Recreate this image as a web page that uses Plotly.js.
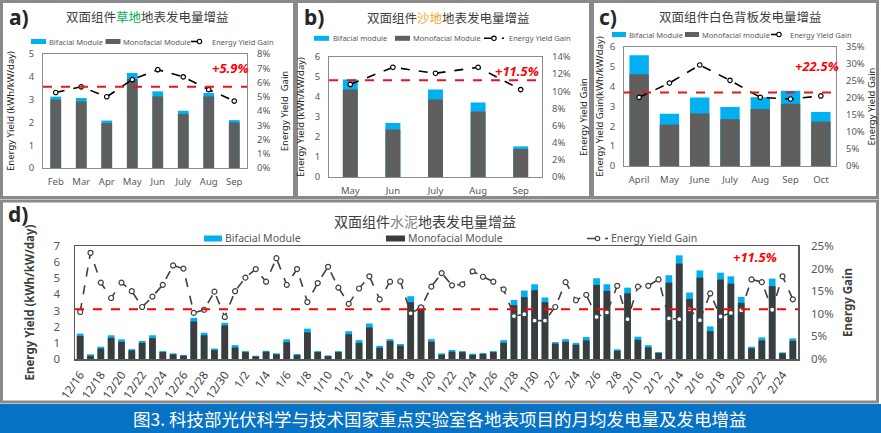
<!DOCTYPE html>
<html><head><meta charset="utf-8">
<script src="https://cdn.plot.ly/plotly-3.0.1.min.js"></script>
<style>html,body{margin:0;padding:0;background:#fff;overflow:hidden}#c{width:881px;height:433px}</style>
</head><body><div id="c"></div>
<script>
// ---------- data ----------
const monthsA = ['Feb','Mar','Apr','May','Jun','July','Aug','Sep'];
const bifacialA = [3.13,3.07,2.08,4.17,3.36,2.51,3.29,2.10];
const monofacialA = [3.00,2.92,1.97,3.90,3.14,2.37,3.14,2.00];
const gainA = [5.3,5.7,5.0,6.2,6.9,6.4,5.5,4.7];
const avgLineA = 5.7, avgLabelA = '+5.9%';
const legendNamesA = ['Bifacial Module','Monofacial Module','Energy Yield Gain'];

const monthsB = ['May','Jun','July','Aug','Sep'];
const bifacialB = [4.87,2.70,4.37,3.72,1.53];
const monofacialB = [4.37,2.38,3.88,3.28,1.40];
const gainB = [10.8,12.8,12.1,12.8,10.2];
const avgLineB = 11.3, avgLabelB = '+11.5%';
const legendNamesB = ['Bifacial module','Monofacial Module','Energy Yield Gain'];

const monthsC = ['April','May','June','July','Aug','Sep','Oct'];
const bifacialC = [5.58,2.63,3.46,2.97,3.47,3.79,2.72];
const monofacialC = [4.62,2.09,2.65,2.36,2.88,3.14,2.24];
const gainC = [20.2,24.4,29.7,25.2,20.2,19.7,20.6];
const avgLineC = 21.6, avgLabelC = '+22.5%';
const legendNamesC = ['Bifacial Module','Monofacial module','Energy Yield Gain'];

const datesD = ['12/16','12/17','12/18','12/19','12/20','12/21','12/22','12/23','12/24','12/25','12/26','12/27','12/28','12/29','12/30',
 '1/1','1/2','1/3','1/4','1/5','1/6','1/7','1/8','1/9','1/10','1/11','1/12','1/13','1/14','1/15','1/16','1/17','1/18','1/19','1/20',
 '1/21','1/22','1/23','1/24','1/25','1/26','1/27','1/28','1/29','1/30','1/31',
 '2/2','2/3','2/4','2/5','2/6','2/7','2/8','2/9','2/10','2/11','2/12','2/13','2/14','2/15','2/16','2/17','2/18','2/19','2/20',
 '2/21','2/22','2/23','2/24','2/25'];
const bifacialD = [1.57,0.29,0.76,1.47,1.22,0.61,1.12,1.47,0.49,0.35,
 0.25,2.55,1.63,0.65,2.24,0.86,0.49,0.20,0.51,0.35,
 1.22,0.31,1.88,0.49,0.22,0.49,1.72,1.17,2.20,0.82,
 1.23,0.93,3.89,3.33,1.23,0.35,0.56,0.49,0.33,0.37,
 0.49,1.17,3.66,4.24,4.63,3.81,1.05,1.23,0.99,1.36,
 5.00,4.63,0.60,4.42,1.38,0.86,0.43,5.19,6.42,4.12,
 5.49,2.02,5.35,5.12,3.85,0.76,1.34,4.98,0.41,1.28];
const monofacialD = [1.43,0.20,0.65,1.31,1.06,0.53,1.00,1.29,0.43,0.29,
 0.20,2.33,1.47,0.55,2.08,0.71,0.43,0.16,0.45,0.29,
 1.04,0.24,1.65,0.43,0.18,0.43,1.53,1.00,1.95,0.70,
 1.11,0.82,3.52,3.17,1.07,0.27,0.45,0.43,0.25,0.31,
 0.43,1.00,3.33,3.83,4.26,3.52,0.95,1.07,0.88,1.15,
 4.59,4.22,0.51,4.07,1.19,0.72,0.37,4.73,5.91,3.72,
 5.04,1.73,4.92,4.67,3.48,0.66,1.15,4.51,0.35,1.13];
const gainD = [10.4,23.5,16.9,13.5,16.9,15.0,11.5,13.8,16.4,20.7,
 20.0,10.2,10.9,14.9,9.3,15.0,18.0,19.9,17.1,22.3,
 16.4,19.9,12.6,16.8,20.4,15.8,12.2,15.6,18.3,13.2,
 17.1,17.2,10.1,11.4,16.0,19.0,16.3,16.5,19.4,18.2,
 17.1,15.4,9.5,9.9,8.5,8.5,11.5,17.0,13.0,14.2,
 9.3,10.3,16.2,8.8,16.0,16.2,17.6,9.0,8.8,11.0,
 8.6,14.5,9.4,10.2,10.8,17.6,17.0,10.9,18.3,13.2];
const avgLineD = 11.0, avgLabelD = '+11.5%';
const legendNamesD = ['Bifacial Module','Monofacial Module','Energy Yield Gain'];
const tickDatesD = datesD.filter((d,i)=>i%2===0);

// ---------- helpers ----------
const W=881,H=433;
const px=x=>x/W, py=y=>1-y/H;
const CYAN='#00B0F0', GREY='#5f5f5f', DARK='#3c3c3c';
const LAT='"Noto Sans", "Open Sans", sans-serif';
const CJK='"Noto Sans CJK SC", sans-serif';

function panelTraces(cats,bi,mono,gain,xa,ya,ya2,names,w,mono_col,line_col,msize){
  return [
    {type:'bar',x:cats,y:bi,name:names[0],marker:{color:CYAN},width:w,xaxis:xa,yaxis:ya,showlegend:false,hoverinfo:'skip'},
    {type:'bar',x:cats,y:mono,name:names[1],marker:{color:mono_col},width:w,xaxis:xa,yaxis:ya,showlegend:false,hoverinfo:'skip'},
    {type:'scatter',mode:'lines+markers',x:cats,y:gain,name:names[2],xaxis:xa,yaxis:ya2,showlegend:false,
     line:{color:line_col,width:1.6,dash:'dash'},marker:{symbol:'circle',size:msize,color:'#fff',line:{color:line_col,width:1.2}},hoverinfo:'skip'}
  ];
}
const data = [
  ...panelTraces(monthsA,bifacialA,monofacialA,gainA,'x','y','y2',legendNamesA,0.42,GREY,'#000',4.5),
  ...panelTraces(monthsB,bifacialB,monofacialB,gainB,'x2','y3','y4',legendNamesB,0.35,GREY,'#000',4.5),
  ...panelTraces(monthsC,bifacialC,monofacialC,gainC,'x3','y5','y6',legendNamesC,0.64,GREY,'#000',4.5),
  ...panelTraces(datesD,bifacialD,monofacialD,gainD,'x4','y7','y8',legendNamesD,0.65,DARK,'#404040',5)
];

const tf={family:LAT,size:9.5,color:'#595959'};
function xax(dom,anchor,n,extra){return Object.assign({domain:dom,anchor:anchor,type:'category',range:[-0.5,n-0.5],autorange:false,showgrid:false,zeroline:false,showline:true,mirror:true,linecolor:'#8c8c8c',linewidth:1,ticks:'',tickangle:0,tickfont:tf,ticklabelstandoff:5,automargin:false},extra||{});}
function yl(dom,anchor,range,dtick,title,so,extra){return Object.assign({domain:dom,anchor:anchor,range:range,dtick:dtick,showgrid:false,zeroline:false,showline:true,mirror:true,linecolor:'#8c8c8c',linewidth:1,ticks:'',tickfont:tf,ticklabelstandoff:6,automargin:false,
  title:{text:title,font:{family:LAT,size:9.5,color:'#262626'},standoff:so}},extra||{});}
function yr(over,anchor,range,dtick,title,so,extra){return Object.assign({overlaying:over,anchor:anchor,side:'right',range:range,dtick:dtick,ticksuffix:'%',showgrid:false,zeroline:false,showline:false,ticks:'',tickfont:tf,ticklabelstandoff:9,automargin:false,
  title:{text:title,font:{family:LAT,size:9.5,color:'#262626'},standoff:so}},extra||{});}

const dA=[px(43),px(247)], vA=[py(168),py(54)];
const dB=[px(329),px(542)], vB=[py(177),py(57)];
const dC=[px(624),px(836)], vC=[py(166),py(47)];
const dD=[px(75),px(798)], vD=[py(359),py(246)];

// manual legend keys (legend boxes laid out like the original)
const legShapes=[], legAnns=[];
function legendRow(names,y,fs,bar1,bar2,line3,txt,monoCol,lineCol,bh){
  const keys=[[bar1,CYAN],[bar2,monoCol]];
  keys.forEach(([k,col])=>legShapes.push({type:'rect',xref:'paper',yref:'paper',x0:px(k[0]),x1:px(k[1]),y0:py(y+bh/2),y1:py(y-bh/2),fillcolor:col,line:{width:0}}));
  legShapes.push({type:'line',xref:'paper',yref:'paper',x0:px(line3[0]),x1:px(line3[1]),y0:py(y),y1:py(y),line:{color:lineCol,width:1.6,dash:'dash'}});
  const cx=(line3[0]+line3[1])/2, r=2.2;
  legShapes.push({type:'circle',xref:'paper',yref:'paper',x0:px(cx-r),x1:px(cx+r),y0:py(y+r),y1:py(y-r),fillcolor:'#fff',line:{color:lineCol,width:1.1}});
  names.forEach((n,i)=>legAnns.push({xref:'paper',yref:'paper',x:px(txt[i]),y:py(y),xanchor:'left',yanchor:'middle',showarrow:false,text:n,font:{family:LAT,size:fs,color:'#595959'}}));
}
legendRow(legendNamesA,41.5,7.5,[31,46],[105.5,120.5],[191,208],[46.5,121,209.5],GREY,'#000',5);
legendRow(legendNamesB,38.3,7.5,[314,329],[395,410],[484,504],[330.5,410.5,506.5],GREY,'#000',5);
legendRow(legendNamesC,34.5,7.5,[612,626],[685,699],[771,787],[627,699.5,787.5],GREY,'#000',5);
legendRow(legendNamesD,238.5,10.5,[204,222],[386,405],[587,608],[223,406,609],DARK,'#404040',6);

const ann=(x,y,text,font,extra)=>Object.assign({xref:'paper',yref:'paper',x:px(x),y:py(y),xanchor:'center',yanchor:'middle',showarrow:false,text:text,font:font},extra||{});

const layout={
  width:W,height:H,margin:{l:0,r:0,t:0,b:0,autoexpand:false},paper_bgcolor:'#fff',plot_bgcolor:'#fff',
  barmode:'overlay',showlegend:false,
  xaxis:xax(dA,'y',monthsA.length), yaxis:yl(vA,'x',[0,5],1,'Energy Yield (kWh/kW/day)',12), yaxis2:yr('y','x',[0,8],1,'Energy Yield  Gain',11),
  xaxis2:xax(dB,'y3',monthsB.length), yaxis3:yl(vB,'x2',[0,6],1,'Energy Yield (kWh/kW/day)',8), yaxis4:yr('y3','x2',[0,14],2,'Energy Yield Gain',10),
  xaxis3:xax(dC,'y5',monthsC.length), yaxis5:yl(vC,'x3',[0,6],1,'Energy Yield Gain(kWh/kW/day)',4), yaxis6:yr('y5','x3',[0,35],5,'Energy Yield Gain',4),
  xaxis4:xax(dD,'y7',datesD.length,{tickangle:-55,tickvals:tickDatesD,ticktext:tickDatesD,tickfont:{family:LAT,size:11.5,color:'#404040'},ticklabelstandoff:3,linecolor:'#595959',linewidth:1.5}),
  yaxis7:yl(vD,'x4',[0,7],1,'',10,{tickfont:{family:LAT,size:11.5,color:'#595959'},ticklabelstandoff:11,linecolor:'#595959',linewidth:1.5,title:{text:'<b>Energy Yield (kWh/kW/day)</b>',font:{family:LAT,size:11.5,color:'#404040'},standoff:16}}),
  yaxis8:yr('y7','x4',[0,25],5,'',10,{tickfont:{family:LAT,size:11.5,color:'#595959'},ticklabelstandoff:12,title:{text:'<b>Energy Gain</b>',font:{family:LAT,size:11.5,color:'#404040'},standoff:11}}),
  shapes:[
    {type:'rect',xref:'paper',yref:'paper',x0:px(1.5),x1:px(294.5),y0:py(197.5),y1:py(1.5),line:{color:'#8a8a8a',width:3}},
    {type:'rect',xref:'paper',yref:'paper',x0:px(296.5),x1:px(590.5),y0:py(197.5),y1:py(1.5),line:{color:'#8a8a8a',width:3}},
    {type:'rect',xref:'paper',yref:'paper',x0:px(592.5),x1:px(877.5),y0:py(197.5),y1:py(1.5),line:{color:'#8a8a8a',width:3}},
    {type:'rect',xref:'paper',yref:'paper',x0:px(1.5),x1:px(877.5),y0:py(402),y1:py(201),line:{color:'#8a8a8a',width:3}},
    {type:'rect',xref:'paper',yref:'paper',x0:0,x1:1,y0:0,y1:py(404),fillcolor:'#0872C4',line:{width:0}},
    {type:'line',xref:'x domain',yref:'y2',x0:0,x1:1,y0:avgLineA,y1:avgLineA,line:{color:'#E8141B',width:2,dash:'dash'}},
    {type:'line',xref:'x2 domain',yref:'y4',x0:0,x1:1,y0:avgLineB,y1:avgLineB,line:{color:'#E8141B',width:2,dash:'dash'}},
    {type:'line',xref:'x3 domain',yref:'y6',x0:0,x1:1,y0:avgLineC,y1:avgLineC,line:{color:'#E8141B',width:2,dash:'dash'}},
    {type:'line',xref:'x4 domain',yref:'y8',x0:0,x1:1,y0:avgLineD,y1:avgLineD,line:{color:'#FF0000',width:2,dash:'dash'}},
    ...legShapes
  ],
  annotations:[
    ann(7,17,'<b>a)</b>',{family:LAT,size:21,color:'#262626'},{xanchor:'left'}),
    ann(302,17,'<b>b)</b>',{family:LAT,size:21,color:'#262626'},{xanchor:'left'}),
    ann(597,17,'<b>c)</b>',{family:LAT,size:21,color:'#262626'},{xanchor:'left'}),
    ann(6,214,'<b>d)</b>',{family:LAT,size:21,color:'#262626'},{xanchor:'left'}),
    ann(147,16,'双面组件<span style="color:#00B050">草地</span>地表发电量增益',{family:CJK,size:12.5,color:'#404040'}),
    ann(448,17,'双面组件<span style="color:#F5A623">沙地</span>地表发电量增益',{family:CJK,size:12.5,color:'#404040'}),
    ann(740,16,'双面组件白色背板发电量增益',{family:CJK,size:12.5,color:'#404040'}),
    ann(425,221,'双面组件<span style="color:#7f7f7f">水泥</span>地表发电量增益',{family:CJK,size:14,color:'#404040'}),
    ann(230,68,'<b><i>'+avgLabelA+'</i></b>',{family:LAT,size:13,color:'#FF0000'}),
    ann(517,71,'<b><i>'+avgLabelB+'</i></b>',{family:LAT,size:13,color:'#FF0000'}),
    ann(817,66,'<b><i>'+avgLabelC+'</i></b>',{family:LAT,size:13,color:'#FF0000'}),
    ann(755,257,'<b><i>'+avgLabelD+'</i></b>',{family:LAT,size:13,color:'#FF0000'}),
    ann(440,418,'图3. 科技部光伏科学与技术国家重点实验室各地表项目的月均发电量及发电增益',{family:CJK,size:17.5,color:'#fff'}),
    ...legAnns
  ]
};
Plotly.newPlot('c',data,layout,{staticPlot:true,displayModeBar:false});
</script></body></html>
